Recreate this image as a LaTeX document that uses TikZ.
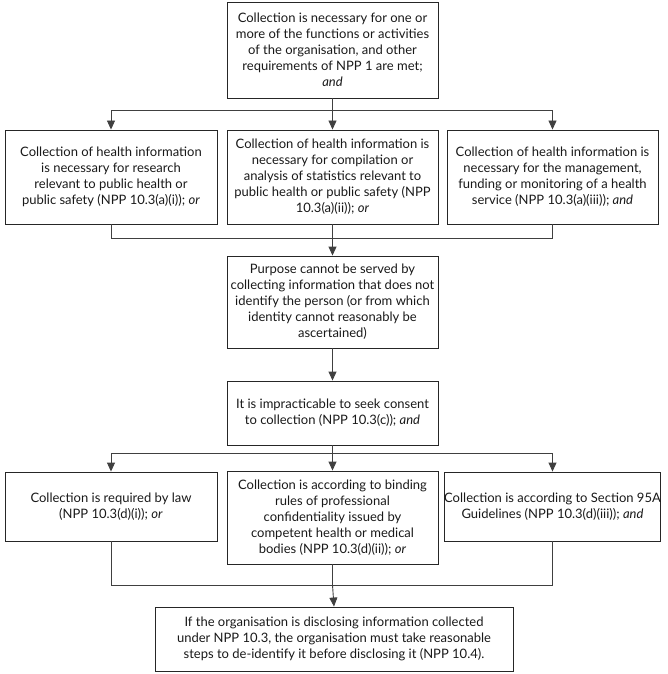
\documentclass[tikz,border=0pt]{standalone}
\usepackage{fontspec}
\setmainfont{Lato}
\usetikzlibrary{arrows.meta}
\begin{document}
\begin{tikzpicture}[x=1pt,y=-1pt,
  box/.style={draw=black!85,line width=0.9pt,inner sep=0pt,align=center,
    font=\fontsize{13}{16}\selectfont,text=black!90},
  conn/.style={draw=black!75,line width=0.9pt},
  arr/.style={conn,-{Triangle[width=8pt,length=9pt]}}]
\useasboundingbox (0,0) rectangle (668,674);
\node[box,minimum width=211pt,minimum height=96pt] (top) at (332.5,50) {Collection is necessary for one or\\more of the functions or activities\\of the organisation, and other\\requirements of NPP 1 are met;\\\textit{and}};
\node[box,minimum width=212pt,minimum height=94pt] (l2) at (111,177) {Collection of health information\\is necessary for research\\relevant to public health or\\public safety (NPP 10.3(a)(i)); \textit{or}};
\node[box,minimum width=211pt,minimum height=94pt] (m2) at (332.5,177) {Collection of health information is\\necessary for compilation or\\analysis of statistics relevant to\\public health or public safety (NPP\\10.3(a)(ii)); \textit{or}};
\node[box,minimum width=211pt,minimum height=94pt] (r2) at (552.5,177) {Collection of health information is\\necessary for the management,\\funding or monitoring of a health\\service (NPP 10.3(a)(iii)); \textit{and}};
\node[box,minimum width=211pt,minimum height=92pt] (p) at (332.5,302) {Purpose cannot be served by\\collecting information that does not\\identify the person (or from which\\identity cannot reasonably be\\ascertained)};
\node[box,minimum width=211pt,minimum height=64pt] (i) at (332.5,413) {It is impracticable to seek consent\\to collection (NPP 10.3(c)); \textit{and}};
\node[box,minimum width=212pt,minimum height=69pt] (l3) at (111,506.5) {Collection is required by law\\(NPP 10.3(d)(i)); \textit{or}};
\node[box,minimum width=211pt,minimum height=93pt] (m3) at (332.5,517.5) {Collection is according to binding\\rules of professional\\confidentiality issued by\\competent health or medical\\bodies (NPP 10.3(d)(ii)); \textit{or}};
\node[box,minimum width=211pt,minimum height=69pt] (r3) at (552.5,506.5) {Collection is according to Section 95A\\Guidelines (NPP 10.3(d)(iii)); \textit{and}};
\node[box,minimum width=358pt,minimum height=64pt] (b) at (334,639) {If the organisation is disclosing information collected\\under NPP 10.3, the organisation must take reasonable\\steps to de-identify it before disclosing it (NPP 10.4).};
% top to row 2
\draw[conn] (top.south) -- ++(0,12) coordinate (j1);
\draw[arr] (j1) -| (l2.north);
\draw[arr] (j1) -- (m2.north);
\draw[arr] (j1) -| (r2.north);
% row 2 to purpose
\draw[conn] (l2.south) |- (m2.south |- 0,238) coordinate (j2);
\draw[conn] (r2.south) |- (j2);
\draw[conn] (m2.south) -- (j2);
\draw[arr] (j2) -- (p.north);
\draw[arr] (p.south) -- (i.north);
% impracticable to row 3
\draw[conn] (i.south) -- ++(0,8) coordinate (j3);
\draw[arr] (j3) -| (l3.north);
\draw[arr] (j3) -- (m3.north);
\draw[arr] (j3) -| (r3.north);
% row 3 to bottom
\draw[conn] (l3.south) |- (m3.south |- 0,585) coordinate (j4);
\draw[conn] (r3.south) |- (j4);
\draw[conn] (m3.south) -- (j4);
\draw[arr] (j4) -- (b.north);
\end{tikzpicture}
\end{document}
